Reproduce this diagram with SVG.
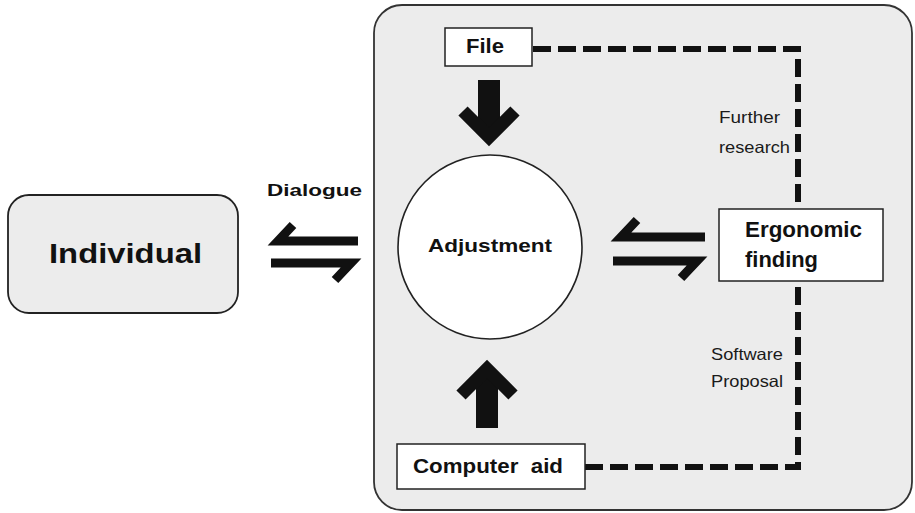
<svg xmlns="http://www.w3.org/2000/svg" width="915" height="513" viewBox="0 0 915 513">
<style>
.bold{font-family:"Liberation Sans",Arial,sans-serif;font-weight:bold;fill:#111}
.reg{font-family:"Liberation Sans",Arial,sans-serif;fill:#1a1a1a}
.box{fill:#fff;stroke:#222;stroke-width:1.5}
.dash{fill:none;stroke:#111;stroke-width:6;stroke-dasharray:18 7}
.half{fill:none;stroke:#111;stroke-width:9;stroke-linejoin:miter;stroke-miterlimit:4}
.shaft{stroke:#111;stroke-width:22}
.head{fill:none;stroke:#111;stroke-width:13;stroke-linejoin:miter;stroke-miterlimit:4}
</style>
<rect width="915" height="513" fill="#fff"/>
<g id="panel">
<rect x="374" y="5" width="538" height="505" rx="28" fill="#ececec" stroke="#333" stroke-width="1.8"/>
</g>
<g id="connectors">
<polyline class="dash" points="533,49 798,49 798,209"/>
<polyline class="dash" points="585,467 798,467 798,281"/>
<polyline class="half" points="293,225 278,241 358,241"/>
<polyline class="half" points="271,263 351,263 335,280"/>
<polyline class="half" points="637,220 621,237 705,237"/>
<polyline class="half" points="613,261 697,261 681,278"/>
<line class="shaft" x1="489" y1="80" x2="489" y2="134"/>
<polyline class="head" points="463,111 489,137 515,111"/>
<line class="shaft" x1="487" y1="428" x2="487" y2="372"/>
<polyline class="head" points="461,395 487,369 513,395"/>
</g>
<g id="individual">
<rect x="8" y="195" width="230" height="118" rx="21" fill="#ececec" stroke="#222" stroke-width="1.8"/>
<text class="bold" x="49" y="263" font-size="27" textLength="153" lengthAdjust="spacingAndGlyphs">Individual</text>
</g>
<g id="dialogue-label">
<text class="bold" x="267" y="196" font-size="17" textLength="95" lengthAdjust="spacingAndGlyphs">Dialogue</text>
</g>
<g id="adjustment">
<circle cx="490" cy="247" r="92" fill="#fff" stroke="#222" stroke-width="1.6"/>
<text class="bold" x="428" y="252" font-size="19" textLength="124" lengthAdjust="spacingAndGlyphs">Adjustment</text>
</g>
<g id="file">
<rect class="box" x="445" y="28" width="87" height="38"/>
<text class="bold" x="466" y="53" font-size="21" textLength="38" lengthAdjust="spacingAndGlyphs">File</text>
</g>
<g id="computer-aid">
<rect class="box" x="397" y="444" width="188" height="45"/>
<text class="bold" x="413" y="473" font-size="21" textLength="150" lengthAdjust="spacingAndGlyphs" xml:space="preserve">Computer  aid</text>
</g>
<g id="ergonomic">
<rect class="box" x="719" y="209" width="164" height="72"/>
<text class="bold" x="745" y="237" font-size="21.5" textLength="117" lengthAdjust="spacingAndGlyphs">Ergonomic</text>
<text class="bold" x="745" y="267" font-size="21.5" textLength="73" lengthAdjust="spacingAndGlyphs">finding</text>
</g>
<g id="labels">
<text class="reg" x="719" y="123" font-size="16.5" textLength="61" lengthAdjust="spacingAndGlyphs">Further</text>
<text class="reg" x="719" y="153" font-size="16.5" textLength="71" lengthAdjust="spacingAndGlyphs">research</text>
<text class="reg" x="711" y="360" font-size="16.5" textLength="72" lengthAdjust="spacingAndGlyphs">Software</text>
<text class="reg" x="711" y="387" font-size="16.5" textLength="72" lengthAdjust="spacingAndGlyphs">Proposal</text>
</g>
</svg>
